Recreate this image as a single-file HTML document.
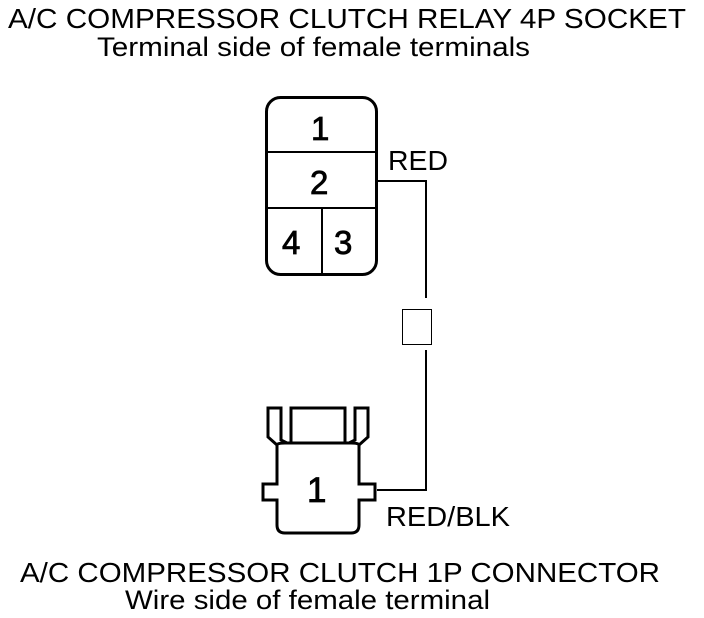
<!DOCTYPE html>
<html><head><style>
body{margin:0;background:#fff;width:704px;height:618px;overflow:hidden}
svg{display:block}
text{font-family:"Liberation Sans",sans-serif;fill:#000}
</style></head><body>
<svg width="704" height="618" viewBox="0 0 704 618">
<text x="8" y="28" font-size="28" textLength="678" lengthAdjust="spacingAndGlyphs">A/C COMPRESSOR CLUTCH RELAY 4P SOCKET</text>
<text x="97" y="56" font-size="27" textLength="433" lengthAdjust="spacingAndGlyphs">Terminal side of female terminals</text>
<g fill="none" stroke="#000">
<rect x="266.5" y="97.5" width="110" height="177" rx="14" stroke-width="3"/>
<line x1="266" y1="152" x2="377" y2="152" stroke-width="2"/>
<line x1="266" y1="208" x2="377" y2="208" stroke-width="2"/>
<line x1="322" y1="208" x2="322" y2="275" stroke-width="2"/>
<polyline points="377,181 426,181 426,298" stroke-width="2"/>
<rect x="402.5" y="309.5" width="29" height="35" stroke-width="1"/>
<polyline points="426,350 426,490 377,490" stroke-width="2"/>
<path d="M277,445 L277,484 L263,484 L263,500 L277,500 L277,525 Q277,533 285,533 L351,533 Q359,533 359,525 L359,500 L375,500 L375,484 L359,484 L359,445 Q359,443 351,443 L285,443 Q277,443 277,445 Z" stroke-width="3"/>
<path d="M277,445 L268,437 L268,408 L281,408 L281,440 L287,443" stroke-width="3"/>
<path d="M359,445 L368,437 L368,408 L355,408 L355,440 L349,443" stroke-width="3"/>
<rect x="291" y="408" width="54" height="35" stroke-width="3"/>
</g>
<g stroke="#000" stroke-width="0.8">
<text x="311" y="140" font-size="33">1</text>
<text x="310" y="194" font-size="33">2</text>
<text x="282" y="254" font-size="33">4</text>
<text x="334" y="254" font-size="33">3</text>
<text x="307" y="502" font-size="35">1</text>
</g>
<text x="388" y="170" font-size="28" textLength="60" lengthAdjust="spacingAndGlyphs">RED</text>
<text x="386" y="526" font-size="28" textLength="124" lengthAdjust="spacingAndGlyphs">RED/BLK</text>
<text x="20" y="582" font-size="28" textLength="640" lengthAdjust="spacingAndGlyphs">A/C COMPRESSOR CLUTCH 1P CONNECTOR</text>
<text x="125" y="609" font-size="27" textLength="365" lengthAdjust="spacingAndGlyphs">Wire side of female terminal</text>
</svg>
</body></html>
